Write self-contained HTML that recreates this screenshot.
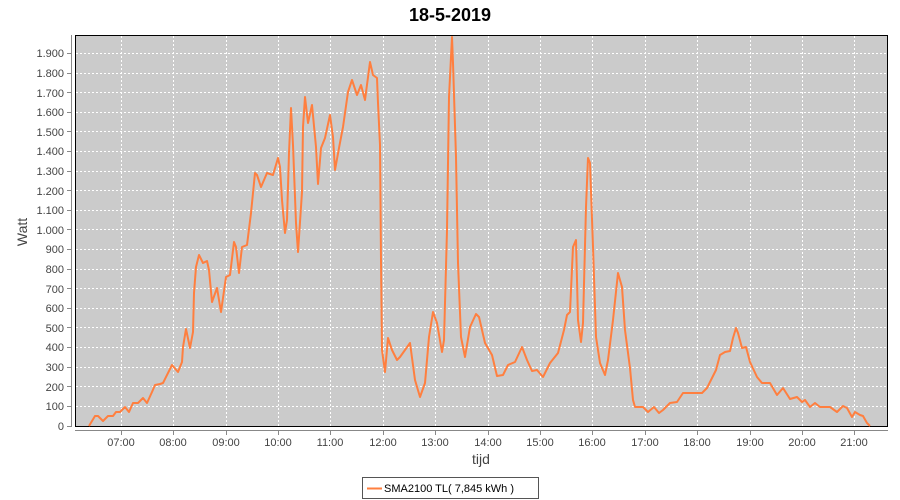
<!DOCTYPE html>
<html><head><meta charset="utf-8"><style>
body{margin:0;background:#fff}
svg{display:block;font-family:"Liberation Sans",sans-serif}
</style></head><body>
<svg width="900" height="500" xmlns="http://www.w3.org/2000/svg">
<text x="450" y="21" text-anchor="middle" font-size="18" font-weight="bold" fill="#000">18-5-2019</text>
<rect x="75.5" y="35.5" width="812" height="391" fill="#cbcbcb" stroke="#000" stroke-width="1"/>
<g stroke="#fff" stroke-width="1" stroke-dasharray="2,2">
<line x1="76" x2="887" y1="406.5" y2="406.5"/><line x1="76" x2="887" y1="386.5" y2="386.5"/><line x1="76" x2="887" y1="367.5" y2="367.5"/><line x1="76" x2="887" y1="347.5" y2="347.5"/><line x1="76" x2="887" y1="327.5" y2="327.5"/><line x1="76" x2="887" y1="308.5" y2="308.5"/><line x1="76" x2="887" y1="288.5" y2="288.5"/><line x1="76" x2="887" y1="269.5" y2="269.5"/><line x1="76" x2="887" y1="249.5" y2="249.5"/><line x1="76" x2="887" y1="229.5" y2="229.5"/><line x1="76" x2="887" y1="210.5" y2="210.5"/><line x1="76" x2="887" y1="190.5" y2="190.5"/><line x1="76" x2="887" y1="171.5" y2="171.5"/><line x1="76" x2="887" y1="151.5" y2="151.5"/><line x1="76" x2="887" y1="131.5" y2="131.5"/><line x1="76" x2="887" y1="112.5" y2="112.5"/><line x1="76" x2="887" y1="92.5" y2="92.5"/><line x1="76" x2="887" y1="73.5" y2="73.5"/><line x1="76" x2="887" y1="53.5" y2="53.5"/>
<line y1="36" y2="426" x1="121.5" x2="121.5"/><line y1="36" y2="426" x1="173.5" x2="173.5"/><line y1="36" y2="426" x1="226.5" x2="226.5"/><line y1="36" y2="426" x1="278.5" x2="278.5"/><line y1="36" y2="426" x1="330.5" x2="330.5"/><line y1="36" y2="426" x1="383.5" x2="383.5"/><line y1="36" y2="426" x1="435.5" x2="435.5"/><line y1="36" y2="426" x1="488.5" x2="488.5"/><line y1="36" y2="426" x1="540.5" x2="540.5"/><line y1="36" y2="426" x1="592.5" x2="592.5"/><line y1="36" y2="426" x1="645.5" x2="645.5"/><line y1="36" y2="426" x1="697.5" x2="697.5"/><line y1="36" y2="426" x1="750.5" x2="750.5"/><line y1="36" y2="426" x1="802.5" x2="802.5"/><line y1="36" y2="426" x1="854.5" x2="854.5"/>
</g>
<polyline fill="none" stroke="#ff7f3f" stroke-width="2" stroke-linejoin="round" points="89,426 95,416 98,416 103,421 108,416 113,416 116,412 120,412 125,407 129,412 133,403 138,403 143,398 147,403 152,392 155,385 160,384 163,383 172,365 178,372 182,362 183,347 186,329 190,348 193,332 194,293 196,267 199,255 203,263 207,261 209,270 212,302 217,288 221,312 226,277 230,275 234,242 236,247 239,273 242,247 247,245 251,213 255,173 257,175 261,187 267,173 273,175 278,158 280,167 282,200 285,233 287,220 289,153 291,108 293,145 296,223 298,252 302,192 303,127 305,97 308,123 312,105 316,147 318,184 321,148 325,138 330,115 333,137 335,170 339,148 343,127 348,92 352,80 357,95 361,85 365,100 370,62 373,75 377,78 378,103 380,145 381,260 382,350 385,372 388,338 392,350 397,360 400,357 410,343 415,380 420,397 425,383 429,337 433,312 437,323 442,352 444,340 447,230 449,97 452,37 453,63 456,157 458,263 461,337 465,357 470,327 476,314 479,317 485,343 492,355 497,376 503,375 508,365 515,362 522,347 527,360 532,371 537,370 543,377 550,363 558,353 564,330 567,315 570,312 573,247 576,240 578,320 581,342 583,323 586,207 588,158 590,163 593,247 596,337 600,363 605,375 608,360 613,320 618,273 622,287 625,330 630,368 633,400 635,407 643,407 648,412 654,407 659,413 663,410 670,403 677,402 683,393 690,393 702,393 707,388 712,378 716,370 720,355 725,352 730,351 733,338 736,328 738,333 742,348 746,347 750,362 757,377 762,383 770,383 777,395 783,388 790,399 797,397 802,402 805,400 810,407 815,403 820,407 830,407 837,412 843,406 847,408 852,417 855,412 860,415 863,416 867,423 870,426"/>
<g stroke="#888" stroke-width="1">
<line x1="71.5" x2="71.5" y1="35" y2="427"/>
<line x1="75" x2="888" y1="430.5" y2="430.5"/>
</g>
<g stroke="#888" stroke-width="1">
<line x1="67" x2="71" y1="426.5" y2="426.5"/><line x1="67" x2="71" y1="406.5" y2="406.5"/><line x1="67" x2="71" y1="386.5" y2="386.5"/><line x1="67" x2="71" y1="367.5" y2="367.5"/><line x1="67" x2="71" y1="347.5" y2="347.5"/><line x1="67" x2="71" y1="327.5" y2="327.5"/><line x1="67" x2="71" y1="308.5" y2="308.5"/><line x1="67" x2="71" y1="288.5" y2="288.5"/><line x1="67" x2="71" y1="269.5" y2="269.5"/><line x1="67" x2="71" y1="249.5" y2="249.5"/><line x1="67" x2="71" y1="229.5" y2="229.5"/><line x1="67" x2="71" y1="210.5" y2="210.5"/><line x1="67" x2="71" y1="190.5" y2="190.5"/><line x1="67" x2="71" y1="171.5" y2="171.5"/><line x1="67" x2="71" y1="151.5" y2="151.5"/><line x1="67" x2="71" y1="131.5" y2="131.5"/><line x1="67" x2="71" y1="112.5" y2="112.5"/><line x1="67" x2="71" y1="92.5" y2="92.5"/><line x1="67" x2="71" y1="73.5" y2="73.5"/><line x1="67" x2="71" y1="53.5" y2="53.5"/>
<line y1="431" y2="435" x1="121.5" x2="121.5"/><line y1="431" y2="435" x1="173.5" x2="173.5"/><line y1="431" y2="435" x1="226.5" x2="226.5"/><line y1="431" y2="435" x1="278.5" x2="278.5"/><line y1="431" y2="435" x1="330.5" x2="330.5"/><line y1="431" y2="435" x1="383.5" x2="383.5"/><line y1="431" y2="435" x1="435.5" x2="435.5"/><line y1="431" y2="435" x1="488.5" x2="488.5"/><line y1="431" y2="435" x1="540.5" x2="540.5"/><line y1="431" y2="435" x1="592.5" x2="592.5"/><line y1="431" y2="435" x1="645.5" x2="645.5"/><line y1="431" y2="435" x1="697.5" x2="697.5"/><line y1="431" y2="435" x1="750.5" x2="750.5"/><line y1="431" y2="435" x1="802.5" x2="802.5"/><line y1="431" y2="435" x1="854.5" x2="854.5"/>
</g>
<g font-size="11" fill="#444" text-anchor="end">
<text x="64" y="430">0</text><text x="64" y="410">100</text><text x="64" y="391">200</text><text x="64" y="371">300</text><text x="64" y="351">400</text><text x="64" y="332">500</text><text x="64" y="312">600</text><text x="64" y="293">700</text><text x="64" y="273">800</text><text x="64" y="253">900</text><text x="64" y="234">1.000</text><text x="64" y="214">1.100</text><text x="64" y="195">1.200</text><text x="64" y="175">1.300</text><text x="64" y="155">1.400</text><text x="64" y="136">1.500</text><text x="64" y="116">1.600</text><text x="64" y="97">1.700</text><text x="64" y="77">1.800</text><text x="64" y="57">1.900</text>
</g>
<g font-size="11" fill="#444" text-anchor="middle">
<text x="121" y="446">07:00</text><text x="173" y="446">08:00</text><text x="226" y="446">09:00</text><text x="278" y="446">10:00</text><text x="330" y="446">11:00</text><text x="383" y="446">12:00</text><text x="435" y="446">13:00</text><text x="488" y="446">14:00</text><text x="540" y="446">15:00</text><text x="592" y="446">16:00</text><text x="645" y="446">17:00</text><text x="697" y="446">18:00</text><text x="750" y="446">19:00</text><text x="802" y="446">20:00</text><text x="854" y="446">21:00</text>
</g>
<text x="481" y="464" text-anchor="middle" font-size="14" fill="#444">tijd</text>
<text transform="translate(27,232) rotate(-90)" text-anchor="middle" font-size="14" fill="#444">Watt</text>
<rect x="362.5" y="477.5" width="176" height="21" fill="#fff" stroke="#555"/>
<line x1="367" x2="382" y1="488.5" y2="488.5" stroke="#ff7f3f" stroke-width="2"/>
<text x="384" y="492" font-size="11" fill="#000">SMA2100 TL( 7,845 kWh )</text>
</svg>
</body></html>
